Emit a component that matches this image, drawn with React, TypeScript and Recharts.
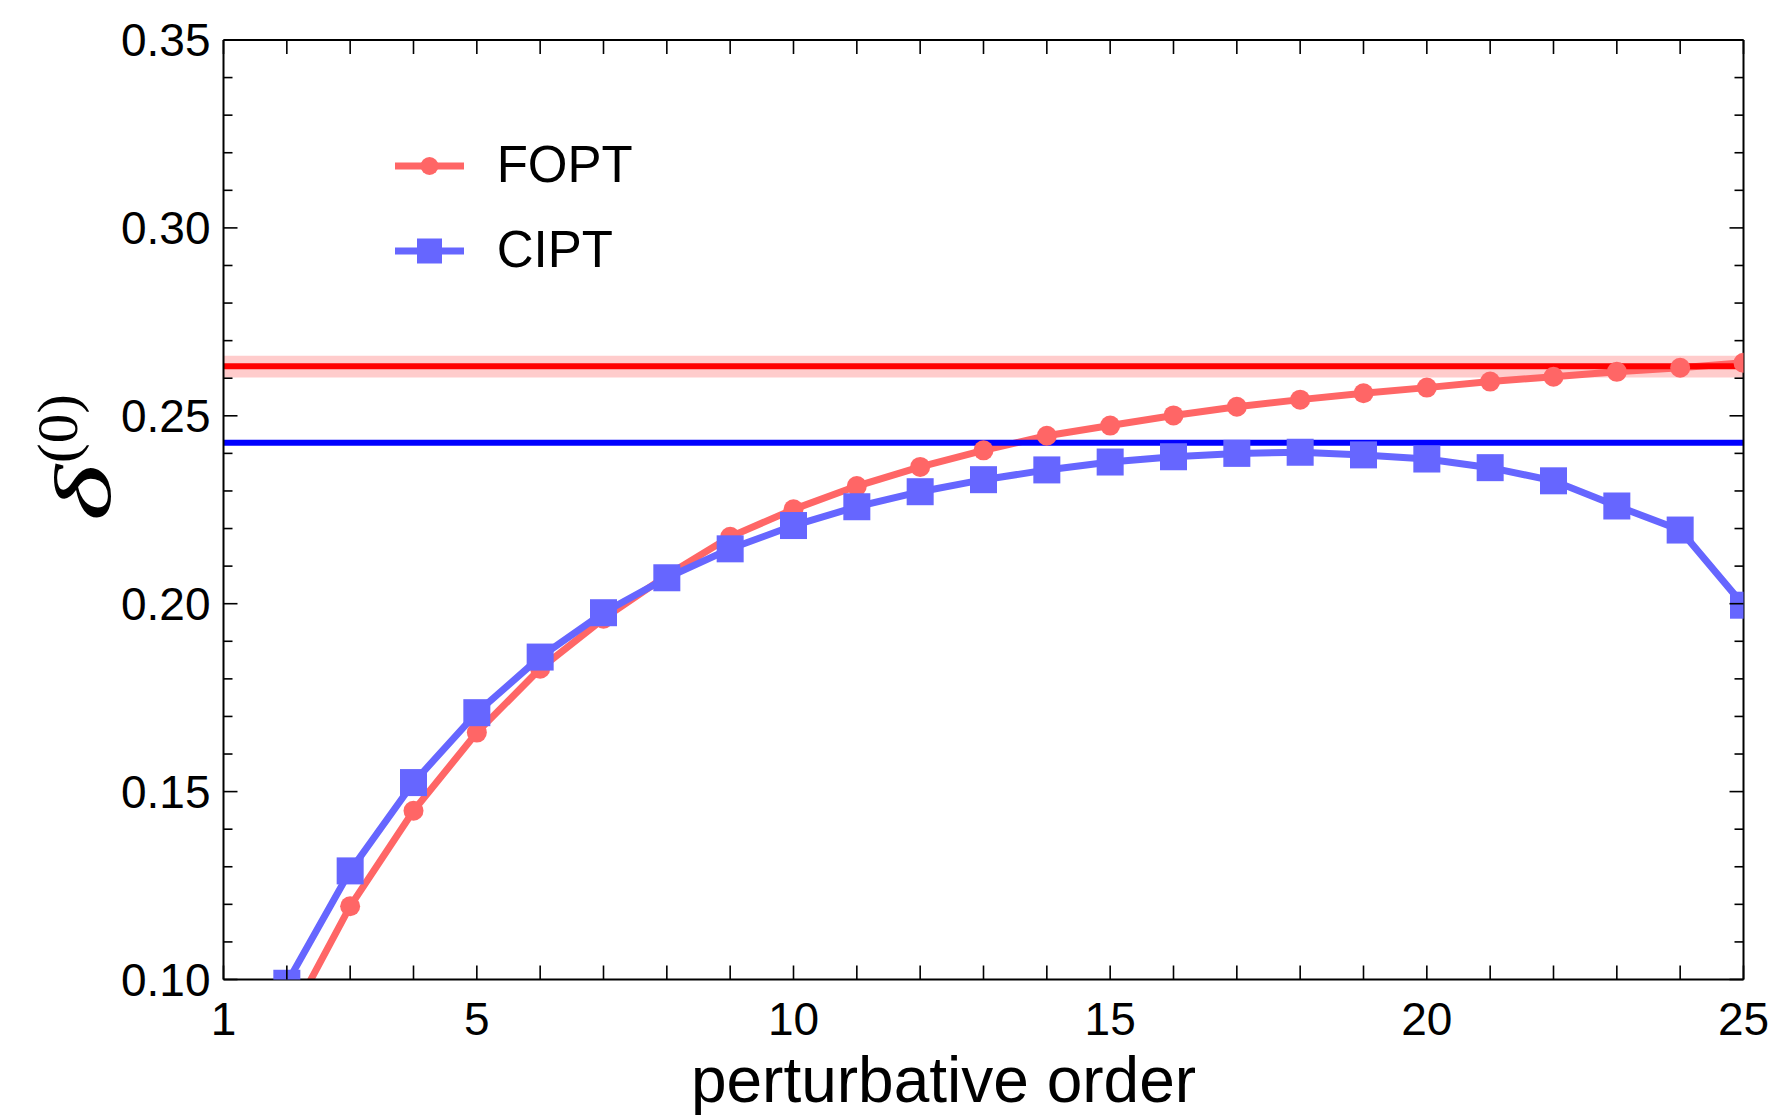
import React from 'react';
import {
  LineChart,
  Line,
  XAxis,
  YAxis,
  ReferenceLine,
  ReferenceArea,
  Legend,
} from 'recharts';

// ---- data ----
const orders = [2, 3, 4, 5, 6, 7, 8, 9, 10, 11, 12, 13, 14, 15, 16, 17, 18, 19, 20, 21, 22, 23, 24, 25];
const foptValues = [
  0.088, 0.1195, 0.1449, 0.1657, 0.1827, 0.196, 0.2075, 0.2178, 0.2251, 0.2313, 0.2364, 0.2408,
  0.2447, 0.2474, 0.2501, 0.2524, 0.2543, 0.256, 0.2575, 0.2591, 0.2604, 0.2617, 0.2628, 0.2641,
];
const ciptValues = [
  0.099, 0.1289, 0.1524, 0.171, 0.1858, 0.1976, 0.2069, 0.2146, 0.2208, 0.2258, 0.2298, 0.233,
  0.2356, 0.2377, 0.2391, 0.24, 0.2403, 0.2396, 0.2385, 0.2362, 0.2327, 0.226, 0.2196, 0.1996,
];
const foptBandLow = 0.2602;
const foptBandHigh = 0.266;
const foptReference = 0.2632;
const ciptReference = 0.2428;

const xTicks = [1, 2, 3, 4, 5, 6, 7, 8, 9, 10, 11, 12, 13, 14, 15, 16, 17, 18, 19, 20, 21, 22, 23, 24, 25];
const xTickLabels: Record<number, string> = { 1: '1', 5: '5', 10: '10', 15: '15', 20: '20', 25: '25' };
const yTicks = [
  0.1, 0.11, 0.12, 0.13, 0.14, 0.15, 0.16, 0.17, 0.18, 0.19, 0.2, 0.21, 0.22, 0.23, 0.24, 0.25,
  0.26, 0.27, 0.28, 0.29, 0.3, 0.31, 0.32, 0.33, 0.34, 0.35,
];
const yMajorTicks = [0.1, 0.15, 0.2, 0.25, 0.3, 0.35];
const yTickLabels = ['0.10', '0.15', '0.20', '0.25', '0.30', '0.35'];
const legendOrder = ['FOPT', 'CIPT'];

const data = orders.map((n, i) => ({ order: n, FOPT: foptValues[i], CIPT: ciptValues[i] }));

const FOPT_COLOR = '#ff6666';
const CIPT_COLOR = '#6666ff';
const FONT = '"Liberation Sans", Arial, Helvetica, sans-serif';
const SERIF = '"Liberation Serif", "Times New Roman", serif';

const majorIndex = (v: number) => yMajorTicks.findIndex((m) => Math.abs(m - v) < 1e-9);

const BottomTick = (props: any) => {
  const { x, y, payload } = props;
  const label = xTickLabels[payload.value];
  return (
    <g>
      <line x1={x} y1={y} x2={x} y2={y - 14} stroke="#000" strokeWidth={1.6} />
      {label && (
        <text x={x} y={y + 55} textAnchor="middle" fontSize={46} fontFamily={FONT} fill="#000">
          {label}
        </text>
      )}
    </g>
  );
};

const TopTick = (props: any) => {
  const { x, y } = props;
  return <line x1={x} y1={y} x2={x} y2={y + 14} stroke="#000" strokeWidth={1.6} />;
};

const LeftTick = (props: any) => {
  const { x, y, payload } = props;
  const mi = majorIndex(payload.value);
  const len = mi >= 0 ? 14 : 9;
  return (
    <g>
      <line x1={x} y1={y} x2={x + len} y2={y} stroke="#000" strokeWidth={1.6} />
      {mi >= 0 && (
        <text x={x - 13} y={y} dy="0.355em" textAnchor="end" fontSize={46} fontFamily={FONT} fill="#000">
          {yTickLabels[mi]}
        </text>
      )}
    </g>
  );
};

const RightTick = (props: any) => {
  const { x, y, payload } = props;
  const mi = majorIndex(payload.value);
  const len = mi >= 0 ? 14 : 9;
  return <line x1={x} y1={y} x2={x - len} y2={y} stroke="#000" strokeWidth={1.6} />;
};

const SQ = 27;
const SquareDot = (props: any) => {
  const { cx, cy, index } = props;
  if (cx == null || cy == null) return <g key={`sq-${index}`} />;
  return <rect key={`sq-${index}`} x={cx - SQ / 2} y={cy - SQ / 2} width={SQ} height={SQ} fill={CIPT_COLOR} />;
};

const renderLegend = (props: any) => {
  const payload = ((props.payload || []) as any[])
    .slice()
    .sort((a, b) => legendOrder.indexOf(a.value) - legendOrder.indexOf(b.value));
  return (
    <svg width={300} height={170} style={{ display: 'block' }}>
      {payload.map((entry: any, i: number) => {
        const cy = i === 0 ? 36 : 121;
        const isSquare = entry.dataKey === 'CIPT';
        return (
          <g key={entry.value}>
            <line x1={15} y1={cy} x2={84} y2={cy} stroke={entry.color} strokeWidth={7} />
            {isSquare ? (
              <rect x={49.5 - 12.5} y={cy - 12.5} width={25} height={25} fill={entry.color} />
            ) : (
              <circle cx={49.5} cy={cy} r={9} fill={entry.color} />
            )}
            <text x={116.7} y={cy + 15.7} fontSize={51} fontFamily={FONT} fill="#000">
              {entry.value}
            </text>
          </g>
        );
      })}
    </svg>
  );
};

const XLabel = (props: any) => {
  const vb = props.viewBox || { x: 0, y: 0, width: 0 };
  return (
    <text x={935.5} y={vb.y + 122.2} textAnchor="middle" fontSize={64} fontFamily={FONT} fill="#000">
      perturbative order
    </text>
  );
};

// rotated y label: local u runs upward along the page, v = 0 is the baseline
const YLabel = () => (
  <g transform="translate(102, 513) rotate(-90)">
    <text x={0} y={0} fontFamily={SERIF} fontStyle="italic" fontSize={80} fill="#000" textLength={56} lengthAdjust="spacingAndGlyphs">
      δ
    </text>
    <text x={58} y={-33} fontFamily={SERIF} fontSize={58} fill="#000" textLength={69} lengthAdjust="spacingAndGlyphs">
      (0)
    </text>
  </g>
);

export default function App() {
  return (
    <LineChart
      width={1772}
      height={1107}
      data={data}
      margin={{ top: 30, right: 34.5, bottom: 35.5, left: 0 }}
    >
      <XAxis
        xAxisId="b"
        dataKey="order"
        type="number"
        domain={[1, 25]}
        ticks={xTicks}
        interval={0}
        allowDataOverflow
        height={100}
        tickSize={0}
        tickMargin={0}
        tickLine={false}
        tick={<BottomTick />}
        axisLine={{ stroke: '#000', strokeWidth: 2 }}
        label={<XLabel />}
      />
      <XAxis
        xAxisId="t"
        orientation="top"
        dataKey="order"
        type="number"
        domain={[1, 25]}
        ticks={xTicks}
        interval={0}
        allowDataOverflow
        height={2}
        tickSize={0}
        tickMargin={0}
        tickLine={false}
        tick={<TopTick />}
        axisLine={{ stroke: '#000', strokeWidth: 2 }}
      />
      <YAxis
        yAxisId="l"
        type="number"
        domain={[0.1, 0.35]}
        ticks={yTicks}
        interval={0}
        allowDataOverflow
        width={215.5}
        tickSize={0}
        tickMargin={0}
        tickLine={false}
        tick={<LeftTick />}
        axisLine={{ stroke: '#000', strokeWidth: 2 }}
        label={<YLabel />}
      />
      <YAxis
        yAxisId="r"
        orientation="right"
        type="number"
        domain={[0.1, 0.35]}
        ticks={yTicks}
        interval={0}
        allowDataOverflow
        width={2}
        tickSize={0}
        tickMargin={0}
        tickLine={false}
        tick={<RightTick />}
        axisLine={{ stroke: '#000', strokeWidth: 2 }}
      />
      <ReferenceArea
        xAxisId="b"
        yAxisId="l"
        y1={foptBandLow}
        y2={foptBandHigh}
        fill="#ffcccc"
        fillOpacity={1}
        stroke="none"
        ifOverflow="hidden"
      />
      <Line
        xAxisId="b"
        yAxisId="l"
        name="FOPT"
        dataKey="FOPT"
        type="linear"
        stroke={FOPT_COLOR}
        strokeWidth={7}
        dot={{ r: 10, fill: FOPT_COLOR, stroke: 'none', strokeWidth: 0 }}
        activeDot={false}
        isAnimationActive={false}
      />
      <Line
        xAxisId="b"
        yAxisId="l"
        name="CIPT"
        dataKey="CIPT"
        type="linear"
        stroke={CIPT_COLOR}
        strokeWidth={7}
        dot={SquareDot}
        activeDot={false}
        isAnimationActive={false}
      />
      <ReferenceLine xAxisId="b" yAxisId="l" y={foptReference} stroke="#ff0000" strokeWidth={6} />
      <ReferenceLine xAxisId="b" yAxisId="l" y={ciptReference} stroke="#0000ff" strokeWidth={6} />
      <Legend
        layout="vertical"
        align="center"
        verticalAlign="middle"
        content={renderLegend}
        wrapperStyle={{ left: 372, top: 122, width: 300, height: 170 }}
      />
    </LineChart>
  );
}
